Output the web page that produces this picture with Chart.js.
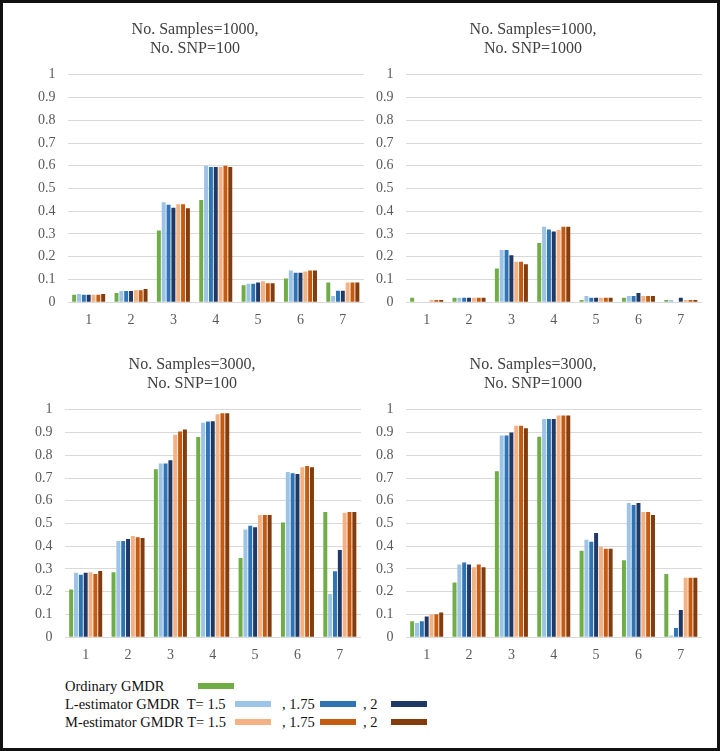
<!DOCTYPE html>
<html>
<head>
<meta charset="utf-8">
<script src="https://cdn.jsdelivr.net/npm/chart.js@4.4.1/dist/chart.umd.min.js"></script>
<style>
  html, body { margin: 0; padding: 0; background: #fff; }
  #frame { position: relative; width: 720px; height: 751px; box-sizing: border-box; border: 3px solid #111; overflow: hidden; font-family: "Liberation Serif", "Times New Roman", serif; }
  .panel { position: absolute; width: 362px; height: 318px; }
  .legend { position: absolute; left: 62px; font-size: 14.5px; color: #111; line-height: 18px; }
  .row { position: relative; height: 18px; white-space: pre; }
  .row .txt { position: absolute; top: 0; }
  .row .sw { position: absolute; width: 36px; height: 6px; top: 6px; }
</style>
</head>
<body>
<div id="frame">
  <div class="panel" style="left:3px; top:10px;"><canvas id="c1"></canvas></div>
  <div class="panel" style="left:341px; top:10px;"><canvas id="c2"></canvas></div>
  <div class="panel" style="left:0px; top:345px;"><canvas id="c3"></canvas></div>
  <div class="panel" style="left:341px; top:345px;"><canvas id="c4"></canvas></div>
  <div class="legend" id="legend" style="top:674px;"></div>
</div>
<script>
// categories and series
const categories = ['1', '2', '3', '4', '5', '6', '7'];
const seriesNames = ['Ordinary GMDR', 'L-estimator GMDR T=1.5', 'L-estimator GMDR T=1.75', 'L-estimator GMDR T=2',
                     'M-estimator GMDR T=1.5', 'M-estimator GMDR T=1.75', 'M-estimator GMDR T=2'];
const seriesColors = ['#70ad47', '#9dc3e6', '#2e75b6', '#1f3864', '#f4b183', '#c55a11', '#843c0c'];

// one row per series, in the order above
const samples1000snp100 = [
  [0.033, 0.040, 0.315, 0.449, 0.074, 0.104, 0.087],
  [0.036, 0.049, 0.440, 0.600, 0.081, 0.139, 0.027],
  [0.033, 0.049, 0.428, 0.595, 0.081, 0.130, 0.050],
  [0.033, 0.049, 0.415, 0.595, 0.087, 0.130, 0.050],
  [0.033, 0.053, 0.431, 0.594, 0.092, 0.135, 0.087],
  [0.033, 0.053, 0.431, 0.600, 0.083, 0.139, 0.087],
  [0.036, 0.058, 0.413, 0.594, 0.083, 0.139, 0.087]
];
const samples1000snp1000 = [
  [0.020, 0.020, 0.148, 0.260, 0.010, 0.020, 0.010],
  [0.000, 0.020, 0.230, 0.332, 0.027, 0.027, 0.010],
  [0.000, 0.020, 0.230, 0.320, 0.020, 0.027, 0.000],
  [0.000, 0.020, 0.207, 0.311, 0.020, 0.041, 0.020],
  [0.010, 0.020, 0.178, 0.318, 0.020, 0.027, 0.010],
  [0.010, 0.020, 0.178, 0.332, 0.020, 0.027, 0.010],
  [0.010, 0.020, 0.167, 0.332, 0.020, 0.027, 0.010]
];
const samples3000snp100 = [
  [0.210, 0.286, 0.739, 0.880, 0.348, 0.504, 0.551],
  [0.283, 0.423, 0.764, 0.943, 0.474, 0.727, 0.190],
  [0.275, 0.423, 0.764, 0.948, 0.490, 0.721, 0.290],
  [0.283, 0.432, 0.778, 0.950, 0.483, 0.718, 0.384],
  [0.286, 0.445, 0.890, 0.980, 0.537, 0.747, 0.547],
  [0.278, 0.440, 0.905, 0.985, 0.537, 0.753, 0.551],
  [0.291, 0.436, 0.913, 0.985, 0.537, 0.747, 0.551]
];
const samples3000snp1000 = [
  [0.070, 0.241, 0.730, 0.881, 0.380, 0.338, 0.278],
  [0.062, 0.320, 0.887, 0.960, 0.429, 0.590, 0.007],
  [0.070, 0.329, 0.887, 0.960, 0.420, 0.581, 0.040],
  [0.091, 0.320, 0.900, 0.960, 0.458, 0.590, 0.120],
  [0.101, 0.308, 0.930, 0.975, 0.398, 0.551, 0.261],
  [0.101, 0.320, 0.930, 0.975, 0.389, 0.551, 0.261],
  [0.109, 0.308, 0.919, 0.975, 0.389, 0.537, 0.261]
];

const serif = "'Liberation Serif', 'Times New Roman', serif";
const tickFont = { family: serif, size: 14 };

function makePanel(id, titleLines, values) {
  new Chart(document.getElementById(id), {
    type: 'bar',
    data: {
      labels: categories,
      datasets: values.map((v, i) => ({
        label: seriesNames[i],
        data: v,
        backgroundColor: seriesColors[i],
        barPercentage: 0.82,
        categoryPercentage: 0.8
      }))
    },
    options: {
      responsive: false,
      animation: false,
      devicePixelRatio: 1,
      layout: { padding: { left: 20, right: 4, top: 8, bottom: 0 } },
      plugins: {
        legend: { display: false },
        tooltip: { enabled: false },
        title: {
          display: true,
          text: titleLines,
          color: '#404040',
          font: { family: serif, size: 16, weight: 'normal', lineHeight: 1.15 },
          padding: { top: 0, bottom: 17 }
        }
      },
      scales: {
        x: {
          grid: { display: false },
          border: { display: false },
          ticks: { color: '#595959', font: tickFont, padding: 2 }
        },
        y: {
          min: 0,
          max: 1,
          grid: { color: '#d9d9d9', drawTicks: false },
          border: { display: false },
          ticks: { stepSize: 0.1, color: '#595959', font: tickFont, padding: 12,
                   callback: v => Math.round(v * 10) / 10 }
        }
      }
    }
  });
}

['c1', 'c2', 'c3', 'c4'].forEach(id => {
  const c = document.getElementById(id);
  c.width = 362; c.height = 318;
});

makePanel('c1', ['No. Samples=1000,', 'No. SNP=100'], samples1000snp100);
makePanel('c2', ['No. Samples=1000,', 'No. SNP=1000'], samples1000snp1000);
makePanel('c3', ['No. Samples=3000,', 'No. SNP=100'], samples3000snp100);
makePanel('c4', ['No. Samples=3000,', 'No. SNP=1000'], samples3000snp1000);

// legend laid out like the original figure
const legendRows = [
  [['Ordinary GMDR', 0], [null, 133, 0]],
  [['L-estimator GMDR  T= 1.5', 0], [null, 170, 1], [', 1.75', 217], [null, 255, 2], [', 2', 298], [null, 326, 3]],
  [['M-estimator GMDR T= 1.5', 0], [null, 170, 4], [', 1.75', 217], [null, 255, 5], [', 2', 298], [null, 326, 6]]
];
const legend = document.getElementById('legend');
legendRows.forEach(items => {
  const row = document.createElement('div');
  row.className = 'row';
  items.forEach(it => {
    const el = document.createElement('span');
    if (it[0] === null) {
      el.className = 'sw';
      el.style.left = it[1] + 'px';
      el.style.background = seriesColors[it[2]];
    } else {
      el.className = 'txt';
      el.textContent = it[0];
      el.style.left = it[1] + 'px';
    }
    row.appendChild(el);
  });
  legend.appendChild(row);
});
</script>
</body>
</html>
